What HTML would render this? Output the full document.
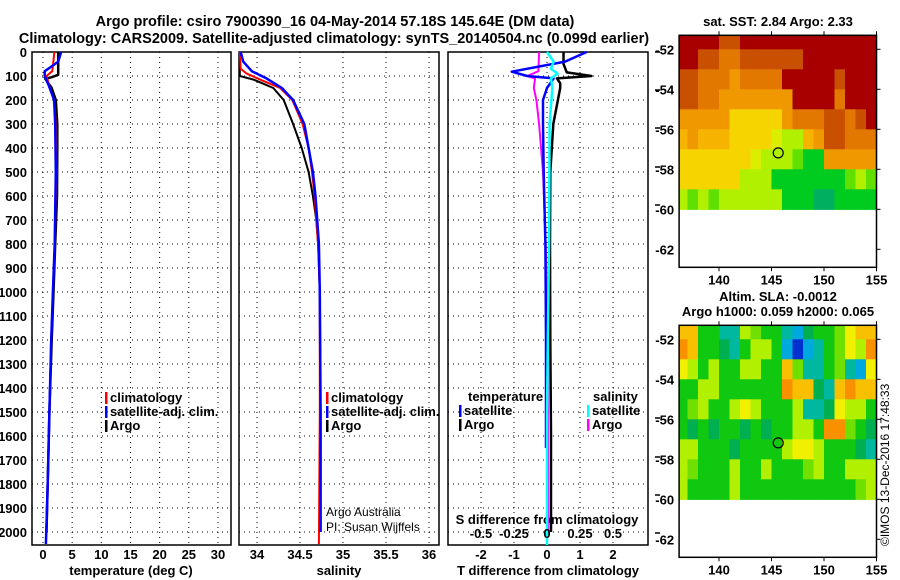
<!DOCTYPE html>
<html><head><meta charset="utf-8"><style>
html,body{margin:0;padding:0;background:#fff;}
svg{display:block;font-family:"Liberation Sans",sans-serif;}
text{font-weight:bold;font-size:13px;fill:#000;}
</style></head><body>
<svg id="chart" width="900" height="580" viewBox="0 0 900 580" xmlns="http://www.w3.org/2000/svg">
<text x="335" y="26" text-anchor="middle" style="font-size:14.5px">Argo profile: csiro 7900390_16 04-May-2014 57.18S 145.64E (DM data)</text>
<text x="334" y="43" text-anchor="middle" style="font-size:14.5px">Climatology: CARS2009. Satellite-adjusted climatology: synTS_20140504.nc (0.099d earlier)</text>
<text x="778" y="26" text-anchor="middle">sat. SST: 2.84 Argo: 2.33</text>
<text x="778" y="301" text-anchor="middle">Altim. SLA: -0.0012</text>
<text x="778" y="316" text-anchor="middle">Argo h1000: 0.059 h2000: 0.065</text>
<text x="0" y="0" transform="translate(889,546) rotate(-90)" style="font-weight:normal;font-size:12px">©IMOS 13-Dec-2016 17:48:33</text>
<text x="131" y="575" text-anchor="middle">temperature (deg C)</text>
<text x="339" y="575" text-anchor="middle">salinity</text>
<text x="548" y="575" text-anchor="middle">T difference from climatology</text>
<text x="547" y="524" text-anchor="middle">S difference from climatology</text>
<text x="326" y="516" style="font-weight:normal;font-size:12px">Argo Australia</text>
<text x="326" y="531" style="font-weight:normal;font-size:12px">PI: Susan Wijffels</text>
</svg>
<script>
// ---------- data ----------
const depthTicks=[0,100,200,300,400,500,600,700,800,900,1000,1100,1200,1300,1400,1500,1600,1700,1800,1900,2000];
const tempTicks=[0,5,10,15,20,25,30];
const salTicks=[34,34.5,35,35.5,36];
const salTickLabels=["34","34.5","35","35.5","36"];
const tdiffTicks=[-2,-1,0,1,2];
const sdiffTicks=[-0.5,-0.25,0,0.25,0.5];
const sdiffTickLabels=["-0.5","-0.25","0","0.25","0.5"];

const tArgoDepth=[0,50,95,105,112,150,200,300,400,600,800,1000,1200,1500,1800,2000];
const tArgoVal=[2.6,2.6,2.6,1.5,0.4,1.5,2.2,2.45,2.45,2.4,2.1,1.8,1.5,1.1,0.8,0.6];
const tClimDepth=[0,80,100,150,200,300,500,800,1000,1200,1500,1800,2050];
const tClimVal=[1.95,1.6,0.6,1.2,1.9,2.2,2.3,2.0,1.7,1.4,1.1,0.8,0.5];
const tSatDepth=[0,40,60,80,100,140,200,300,500,800,1000,1200,1500,1800,2050];
const tSatVal=[3.1,2.6,1.5,0.3,0.3,1.0,1.9,2.1,2.2,2.0,1.7,1.4,1.1,0.8,0.5];

const sArgoDepth=[0,100,115,150,200,300,400,500,600,700,800,1000,1500,2000];
const sArgoVal=[33.8,33.8,33.96,34.19,34.31,34.42,34.52,34.60,34.65,34.69,34.71,34.73,34.74,34.74];
const sClimDepth=[0,70,90,120,150,200,300,400,500,600,700,800,1000,1500,2050];
const sClimVal=[33.8,33.81,33.88,34.07,34.27,34.41,34.53,34.60,34.64,34.67,34.69,34.71,34.73,34.73,34.72];
const sSatDepth=[0,40,80,110,150,200,300,400,500,600,700,800,1000,1500,2000];
const sSatVal=[33.81,33.84,33.94,34.11,34.29,34.42,34.55,34.60,34.65,34.68,34.70,34.72,34.73,34.74,34.74];

const dTArgoDepth=[0,50,85,100,110,130,150,200,300,500,800,1200,1600,2000];
const dTArgoVal=[0.5,0.5,0.6,1.35,0.3,0.4,0.4,0.33,0.19,0.1,0.09,0.1,0.12,0.12];
const dTSatDepth=[0,40,82,100,110,150,200,300,500,800,1200,1650];
const dTSatVal=[1.2,0.55,-1.07,-0.6,0.2,0,-0.12,-0.12,-0.1,-0.05,-0.03,-0.03];
const dSSatDepth=[0,40,70,90,110,150,300,800,1500,2060];
const dSSatVal=[0,0.05,0.03,0.08,0.03,0.04,0.02,0.015,0.0,0.0];
const dSArgoDepth=[0,80,100,110,150,200,300,500,800,1200,2000];
const dSArgoVal=[-0.06,-0.065,-0.15,-0.09,-0.1,-0.08,-0.06,-0.03,-0.01,0.005,0.01];

const mapLonTicks=[140,145,150,155];
const mapLatTicks=[-52,-54,-56,-58,-60,-62];
const argoLon=145.64, argoLat=-57.18;
const sstRow0=[6,6,6,6,5,5,6,6,6,6,6,6,6,6,6,6,6,6,6];
const sstRow1=[6,6,5,5,4.5,4.5,5,5,5,5,5,5,6,6,6,6,6,6,6];
const sstRow2=[5,5,4.5,4.5,4.5,4,4.5,4.5,4.5,4.5,6,6,6,6,6,5,6,6,6];
const sstRow3=[5,5,4.5,4.5,4,4,4,4,4,4,4,6,6,6,6,4.5,6,6,6];
const sstRow4=[4,4,4,4,4,3.5,3.5,3.5,3.5,3.5,4,4.5,4.5,4.5,5,5,4.5,5,6];
const sstRow5=[3.8,4,3.8,3.8,3.8,3.5,3.5,3.5,3.5,3,2.8,2.8,3.8,4,5,5,4.5,4.5,4.5];
const sstRow6=[3.5,3.5,3.5,3.5,3.5,3.5,3.3,3,2.8,2.8,2.8,2.3,2,2,4,4,4,4,4];
const sstRow7=[3.3,3.3,3.3,3.3,3.3,3.3,2.8,2.8,2.8,2,2,2,2,2,2,2,2.3,2.8,2.5];
const sstRow8=[2.8,2.5,2.8,2.5,2.8,2.8,2.8,2.8,2.8,2.8,2,2,2,1.8,1.8,2,2,2,2];
const slaRow0=[2.5,2,0,0,-1,-1,1,0.5,0,0,-1,-2,-0.5,0,0,0.5,1.5,2,2.5];
const slaRow1=[3,2,0,0,-0.5,-1,0,1,1,0,-2,-3,-2,-1,0,0.5,1.5,1,3];
const slaRow2=[1.5,1,0,1,0,0,1,1,0,0,2,0.5,-1,-1,0,0.5,-1.5,-2,1.5];
const slaRow3=[0,0,1,1,0,0,0,0,0,0,3,2,2.5,-0.5,-1,2.5,3,2,2.5];
const slaRow4=[0,0.5,1,0,0,1,1.5,1,0,0,0,1,-1,-1.5,-0.5,1.5,1,1,0];
const slaRow5=[0,-0.5,0,-0.5,0,0,-0.5,0,-0.5,0,0,1,1,0,3,3,0.5,0,-0.5];
const slaRow6=[1,1,0,0,0,-0.5,0,0,0,0,1,1.5,1.5,1,0,0,0,-0.5,-1];
const slaRow7=[1,0.5,0,0,0,1,0,0,1,0,0,0,0.5,1,0,0,1,1,1];
const slaRow8=[1,0,0,0,0,1,0,0,0,0,0,0,0,0,0,0,0,0.5,1];
const sstGrid=[sstRow0,sstRow1,sstRow2,sstRow3,sstRow4,sstRow5,sstRow6,sstRow7,sstRow8];
const slaGrid=[slaRow0,slaRow1,slaRow2,slaRow3,slaRow4,slaRow5,slaRow6,slaRow7,slaRow8];

// ---------- helpers ----------
const NS="http://www.w3.org/2000/svg";
const svg=document.getElementById('chart');
function el(tag,attrs,parent){const e=document.createElementNS(NS,tag);for(const k in attrs)e.setAttribute(k,attrs[k]);(parent||svg).appendChild(e);return e;}
function txt(x,y,s,anchor,parent){const e=el('text',{x:x,y:y,'text-anchor':anchor||'middle'},parent);e.textContent=s;return e;}
const yD=d=>52+d*0.24;
const xT=t=>43+t*5.833;
const xS=s=>257+(s-34)*86;
const xDT=d=>547+d*33;
const xDS=s=>547+s*132;
const lonX=lon=>719+(lon-140)*10.5;
const latY=(lat,off)=>off+49.3+(-52-lat)*20;

const panels=[{x0:32,x1:231,name:'temperature-panel'},{x0:239,x1:439,name:'salinity-panel'},{x0:448,x1:648,name:'difference-panel'}];
const Y0=52,Y1=545;

depthTicks.forEach(d=>{
  const t=txt(27,yD(d)+5,String(d),'end');
  
  
});

function gridPanel(p,xs){
  const g=el('g',{});
  
  
  depthTicks.forEach(d=>{ if(d>0){
    const l=el('line',{x1:p.x0,x2:p.x1,y1:yD(d),y2:yD(d),stroke:'#000','stroke-width':1,'stroke-dasharray':'1,4'},g);
    
    
  }});
  xs.forEach(x=>{
    const l=el('line',{x1:x,x2:x,y1:Y0,y2:Y1,stroke:'#000','stroke-width':1,'stroke-dasharray':'1,4'},g);
    
    
  });
  const r=el('rect',{x:p.x0,y:Y0,width:p.x1-p.x0,height:Y1-Y0,fill:'none',stroke:'#000','stroke-width':1.5},g);
  
  
  return g;
}
const g1=gridPanel(panels[0],tempTicks.map(xT));
const g2=gridPanel(panels[1],salTicks.map(xS));
const g3=gridPanel(panels[2],tdiffTicks.map(xDT));

tempTicks.forEach(t=>{
  const e=txt(xT(t),559,String(t));
  
  
});
salTicks.forEach((s,i)=>{
  const e=txt(xS(s),559,salTickLabels[i]);
  
  
});
tdiffTicks.forEach(t=>{
  const e=txt(xDT(t),559,String(t));
  
  
});
sdiffTicks.forEach((s,i)=>{
  const e=txt(xDS(s),538,sdiffTickLabels[i]);
  
  
});

function line(g,depths,vals,fx,color,w){
  const pts=depths.map((d,i)=>fx(vals[i]).toFixed(1)+','+yD(Math.min(d,2054)).toFixed(1)).join(' ');
  return el('polyline',{points:pts,fill:'none',stroke:color,'stroke-width':w||2,'stroke-linejoin':'round'},g);
}
let s;
s=line(g1,tArgoDepth,tArgoVal,xT,'#000',2.5);

s=line(g1,tClimDepth,tClimVal,xT,'#f00');

s=line(g1,tSatDepth,tSatVal,xT,'#00f',2.5);

s=line(g2,sArgoDepth,sArgoVal,xS,'#000');

s=line(g2,sClimDepth,sClimVal,xS,'#f00');

s=line(g2,sSatDepth,sSatVal,xS,'#00f',2.5);

s=line(g3,dTArgoDepth,dTArgoVal,xDT,'#000',2.5);

s=line(g3,dSArgoDepth,dSArgoVal,xDS,'#f0f');

s=line(g3,dTSatDepth,dTSatVal,xDT,'#00f',2.5);

s=line(g3,dSSatDepth,dSSatVal,xDS,'#0ff',2.5);


function legend(x,y,color,label,name){
  const b=el('rect',{x:x,y:y-10,width:2.5,height:12,fill:color});
  
  
  const t=txt(x+5,y,label,'start');
  
  
}
legend(105,402,'#f00','climatology','legend-climatology');
legend(105,416,'#00f','satellite-adj. clim.','legend-satellite-adj');
legend(105,430,'#000','Argo','legend-argo');
legend(326,402,'#f00','climatology','legend-sal-climatology');
legend(326,416,'#00f','satellite-adj. clim.','legend-sal-satellite-adj');
legend(326,430,'#000','Argo','legend-sal-argo');
let lt=txt(468,401,'temperature','start');

lt=txt(593,401,'salinity','start');

legend(459,415,'#00f','satellite','legend-t-satellite');
legend(459,429,'#000','Argo','legend-t-argo');
legend(587,415,'#0ff','satellite','legend-s-satellite');
legend(587,429,'#f0f','Argo','legend-s-argo');

[52,90,128,167,205,418,457,495,533].forEach(y=>{
  const l=el('line',{x1:655,x2:660,y1:y,y2:y,stroke:'#000','stroke-width':1.5});
  
});

function sstColor(v){if(v>=5.8)return '#a80000';if(v>=4.8)return '#c85000';if(v>=4.3)return '#e27800';if(v>=3.9)return '#f09800';if(v>=3.6)return '#f6b400';if(v>=3.2)return '#f5d400';if(v>=2.9)return '#dcee00';if(v>=2.6)return '#b0f000';if(v>=2.2)return '#60e000';if(v>=1.9)return '#00cc20';return '#00b060';}
function slaColor(v){if(v<=-2.5)return '#0030d0';if(v<=-1.7)return '#00a8e0';if(v<=-0.8)return '#00b8a0';if(v<=-0.3)return '#00b050';if(v<0.5)return '#10c810';if(v<1)return '#70e000';if(v<1.5)return '#b0f000';if(v<2)return '#f0f000';if(v<2.7)return '#f8c000';return '#f89000';}
function map(grid,colorFn,off,name){
  const g=el('g',{});
  
  
  grid.forEach((row,r)=>row.forEach((v,c)=>{
    const lon0=c===0?136.2:136+c, lon1=137+c;
    const lat0=r===0?-51.3:-51-r, lat1=-52-r;
    const x0=lonX(lon0),x1=lonX(lon1),y0=latY(lat0,off),y1=latY(lat1,off);
    const cell=el('rect',{x:x0.toFixed(1),y:y0.toFixed(1),width:(x1-x0+0.6).toFixed(1),height:(y1-y0+0.6).toFixed(1),fill:colorFn(v)},g);
    
    
  }));
  const fx0=lonX(136.2),fx1=lonX(155),fy0=latY(-51.3,off),fy1=latY(-62.9,off);
  const fr=el('rect',{x:fx0,y:fy0,width:fx1-fx0,height:fy1-fy0,fill:'none',stroke:'#000','stroke-width':1.5},g);
  
  mapLonTicks.forEach(lon=>{
    const t=txt(lonX(lon),fy1+17,String(lon),'middle',g);
    
    const tk=el('line',{x1:lonX(lon),x2:lonX(lon),y1:fy0-4,y2:fy0,stroke:'#000'},g);
    
    const tk2=el('line',{x1:lonX(lon),x2:lonX(lon),y1:fy1,y2:fy1+4,stroke:'#000'},g);
    
  });
  mapLatTicks.forEach(lat=>{
    const t=txt(fx0-5,latY(lat,off)+5,String(lat),'end',g);
    
    const tk=el('line',{x1:fx1,x2:fx1+4,y1:latY(lat,off),y2:latY(lat,off),stroke:'#000'},g);
    
  });
  const c=el('circle',{cx:lonX(argoLon),cy:latY(argoLat,off),r:5,fill:'none',stroke:'#000','stroke-width':1.2},g);
  
  
}
map(sstGrid,sstColor,0,'sst-map');
map(slaGrid,slaColor,290,'sla-map');
</script>
</body></html>
